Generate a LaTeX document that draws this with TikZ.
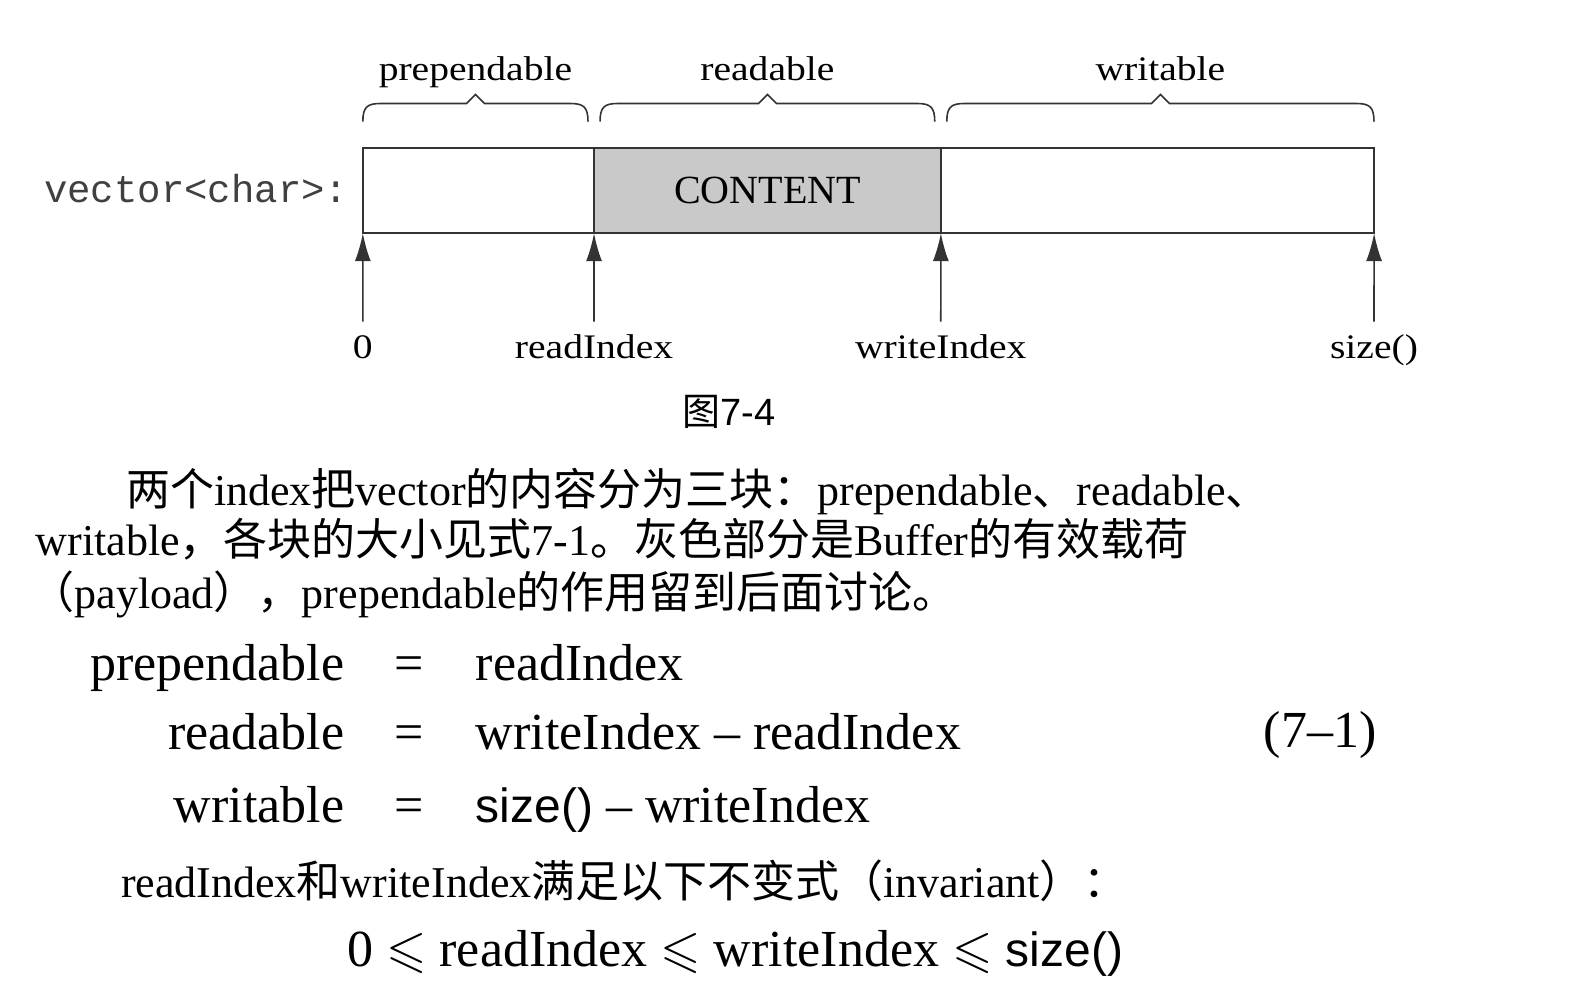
\documentclass[tikz,border=0pt]{standalone}
\usepackage{amssymb}
\usepackage{fontspec}
\setmainfont{Liberation Serif}
\setsansfont{Liberation Sans}
\setmonofont{Liberation Mono}
\newfontfamily\cjkfont{Noto Sans CJK SC}
\newfontfamily\figfont{Liberation Serif}[FakeStretch=1.15]
\newcommand{\zh}[1]{{\cjkfont #1}}
\usepackage{tikz}
\usetikzlibrary{arrows.meta, positioning}

\tikzset{
  cell/.style={draw=black!80, line width=1pt, minimum height=42.7pt, inner sep=0pt, outer sep=0pt},
  figlabel/.style={font=\figfont\fontsize{17.2}{20}\selectfont, inner sep=0pt, anchor=base},
  idxarrow/.style={-{Latex[length=14pt,width=8pt]}, line width=0.8pt, draw=black!80},
  bracepath/.style={line width=0.8pt, draw=black!80},
  bodytext/.style={font=\fontsize{22}{26}\selectfont, anchor=base west, inner sep=0pt},
  eqtext/.style={font=\fontsize{26}{31}\selectfont, inner sep=0pt}
}

\begin{document}
\begin{tikzpicture}[x=0.5025pt, y=-0.5025pt]

  % Page
  \fill[white] (0,0) rectangle (1568,989);
  \useasboundingbox (0,0) rectangle (1568,989);

  % Buffer cells
  \node[cell, minimum width=115.6pt] (pre) at (476,189.5) {};
  \node[cell, minimum width=173.4pt, fill=gray!42, right=0pt of pre, font=\fontsize{20}{24}\selectfont] (cont) {CONTENT};
  \node[cell, minimum width=216.6pt, right=0pt of cont] (wri) {};

  \node[anchor=east, inner sep=0pt, text=black!75, font=\ttfamily\fontsize{19.5}{24}\selectfont] (vec) at (347,188) {vector<char>:};

  % Braces and their labels
  \foreach \a/\b/\t/\n in {361/585/prependable/pre, 597/930/readable/rd, 942/1367/writable/wr} {
    \draw[bracepath] (\a,121) .. controls (\a,107) and (\a+4,103) .. (\a+17,103)
      -- ({(\a+\b)/2-9},103) -- ({(\a+\b)/2},94) -- ({(\a+\b)/2+9},103)
      -- (\b-17,103) .. controls (\b-4,103) and (\b,107) .. (\b,121);
    \node[figlabel] (lab\n) at ({(\a+\b)/2},80) {\t};
  }

  % Indices
  \coordinate (f0) at (361,320);
  \coordinate (f1) at (591,320);
  \coordinate (f2) at (936,320);
  \coordinate (f3) at (1367,320);
  \draw[idxarrow] (f0) -- (pre.south west);
  \draw[idxarrow] (f1) -- (cont.south west);
  \draw[idxarrow] (f2) -- (wri.south west);
  \draw[idxarrow] (f3) -- (wri.south east);

  \node[figlabel] (i0) at (361,357) {0};
  \node[figlabel] (i1) at (591,357) {readIndex};
  \node[figlabel] (i2) at (936,357) {writeIndex};
  \node[figlabel] (i3) at (1367,357) {size()};

  % Caption
  \node[font=\fontsize{19}{22}\selectfont] (cap) at (725,410) {\zh{图}{\sffamily 7-4}};

  % Paragraph
  \node[bodytext] (p1) at (125,503) {\zh{两个}index\zh{把}vector\zh{的内容分为三块：}prependable\zh{、}readable\zh{、}};
  \node[bodytext] (p2) at (35,553) {writable\zh{，各块的大小见式}7-1\zh{。灰色部分是}Buffer\zh{的有效载荷}};
  \node[bodytext] (p3) at (30,605) {\zh{（}payload\zh{），}prependable\zh{的作用留到后面讨论。}};

  % Equation 7-1
  \node[eqtext, anchor=base east] (lhs1) at (343,677) {prependable};
  \node[eqtext, anchor=base] (eq1) at (407,677) {=};
  \node[eqtext, anchor=base west] (rhs1) at (473,677) {readIndex};
  \node[eqtext, anchor=base east] (lhs2) at (343,746) {readable};
  \node[eqtext, anchor=base] (eq2) at (407,746) {=};
  \node[eqtext, anchor=base west] (rhs2) at (473,746) {writeIndex -- readIndex};
  \node[eqtext, anchor=base east] (lhs3) at (343,818) {writable};
  \node[eqtext, anchor=base] (eq3) at (407,818) {=};
  \node[eqtext, anchor=base west] (rhs3) at (473,818) {{\sffamily\fontsize{24}{29}\selectfont size()} -- writeIndex};
  \node[eqtext, anchor=base east] (eqno) at (1370,744) {(7--1)};

  \node[bodytext] (p4) at (120,893) {readIndex\zh{和}writeIndex\zh{满足以下不变式（}invariant\zh{）：}};

  % Invariant
  \node[eqtext, anchor=base west] (inv) at (345,962) {0 $\leqslant$ readIndex $\leqslant$ writeIndex $\leqslant$ {\sffamily\fontsize{24}{29}\selectfont size()}};

\end{tikzpicture}
\end{document}
